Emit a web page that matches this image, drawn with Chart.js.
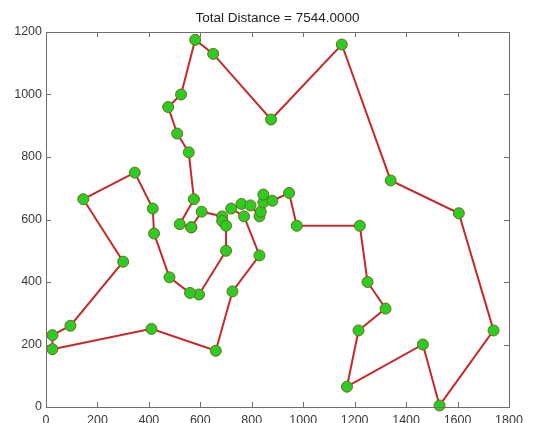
<!DOCTYPE html>
<html>
<head>
<meta charset="utf-8">
<script src="https://cdn.jsdelivr.net/npm/chart.js@4/dist/chart.umd.min.js"></script>
<style>
  html, body { margin: 0; padding: 0; background: #fff; }
  #wrap { width: 535px; height: 423px; }
</style>
</head>
<body>
<div id="wrap"><canvas id="tourChart"></canvas></div>
<script>
/* Data: city coordinates in tour order (closed back to the first city) */
const tourX = [565, 605, 685, 685, 700, 700, 595, 560, 480, 420, 415, 345, 145, 300, 95, 25, 25, 410, 660, 725,
  830, 770, 720, 760, 795, 830, 835, 845, 845, 880, 945, 975, 1220, 1250, 1320, 1215, 1170, 1465, 1530, 1740,
  1605, 1340, 1150, 875, 650, 580, 525, 475, 510, 555, 575, 520, 565];
const tourY = [575, 625, 610, 595, 580, 500, 360, 365, 415, 555, 635, 750, 665, 465, 260, 230, 185, 250, 180, 370,
  485, 610, 635, 650, 645, 610, 625, 655, 680, 660, 685, 580, 580, 400, 315, 245, 65, 200, 5, 245,
  620, 725, 1160, 920, 1130, 1175, 1000, 960, 875, 815, 665, 585, 575];
const xTicks = [0, 200, 400, 600, 800, 1000, 1200, 1400, 1600, 1800];
const yTicks = [0, 200, 400, 600, 800, 1000, 1200];
const titleText = "Total Distance = 7544.0000";

const points = tourX.map((x, i) => ({ x: x, y: tourY[i] }));

/* matlab style box with ticks pointing inward */
const axesBox = {
  id: "axesBox",
  afterDraw(chart) {
    const { ctx, chartArea: a, scales } = chart;
    ctx.save();
    ctx.strokeStyle = "#6e6e6e";
    ctx.lineWidth = 1;
    ctx.strokeRect(a.left + 0.5, a.top + 0.5, a.right - a.left, a.bottom - a.top);
    ctx.beginPath();
    xTicks.forEach((v) => {
      const px = Math.round(scales.x.getPixelForValue(v)) + 0.5;
      ctx.moveTo(px, a.bottom); ctx.lineTo(px, a.bottom - 5);
      ctx.moveTo(px, a.top); ctx.lineTo(px, a.top + 5);
    });
    yTicks.forEach((v) => {
      const py = Math.round(scales.y.getPixelForValue(v)) + 0.5;
      ctx.moveTo(a.left, py); ctx.lineTo(a.left + 5, py);
      ctx.moveTo(a.right, py); ctx.lineTo(a.right - 5, py);
    });
    ctx.stroke();
    ctx.restore();
  },
};

const tickFont = { family: "Liberation Sans", size: 12.5 };

const tourChart = new Chart(document.getElementById("tourChart"), {
  type: "scatter",
  data: {
    datasets: [
      {
        data: points,
        showLine: true,
        borderColor: "#c42a2c",
        borderWidth: 2,
        pointRadius: 5.5,
        pointBackgroundColor: "#2ccc22",
        pointBorderColor: "#6f6a1c",
        pointBorderWidth: 1,
        clip: false,
      },
    ],
  },
  options: {
    responsive: true,
    maintainAspectRatio: false,
    animation: false,
    layout: { padding: { top: 0, right: 26, left: 0, bottom: 0 } },
    scales: {
      x: {
        type: "linear",
        min: 0,
        max: 1800,
        afterBuildTicks: (s) => { s.ticks = xTicks.map((v) => ({ value: v })); },
        afterFit: (s) => { s.height = 16; },
        grid: { display: false, drawTicks: false },
        border: { display: false },
        ticks: {
          padding: 6,
          maxRotation: 0,
          autoSkip: false,
          color: "#3a3a3a",
          font: tickFont,
          callback: (v) => String(v),
        },
      },
      y: {
        type: "linear",
        min: 0,
        max: 1200,
        afterBuildTicks: (s) => { s.ticks = yTicks.map((v) => ({ value: v })); },
        afterFit: (s) => { s.width = 46; },
        grid: { display: false, drawTicks: false },
        border: { display: false },
        ticks: {
          padding: 4,
          autoSkip: false,
          color: "#3a3a3a",
          font: tickFont,
          callback: (v) => String(v),
        },
      },
    },
    plugins: {
      legend: { display: false },
      tooltip: { enabled: false },
      title: {
        display: true,
        text: titleText,
        fullSize: false,
        color: "#222",
        font: { family: "Liberation Sans", size: 13.5, weight: "normal" },
        padding: { top: 10, bottom: 5.8 },
      },
    },
  },
  plugins: [axesBox],
});
</script>
</body>
</html>
